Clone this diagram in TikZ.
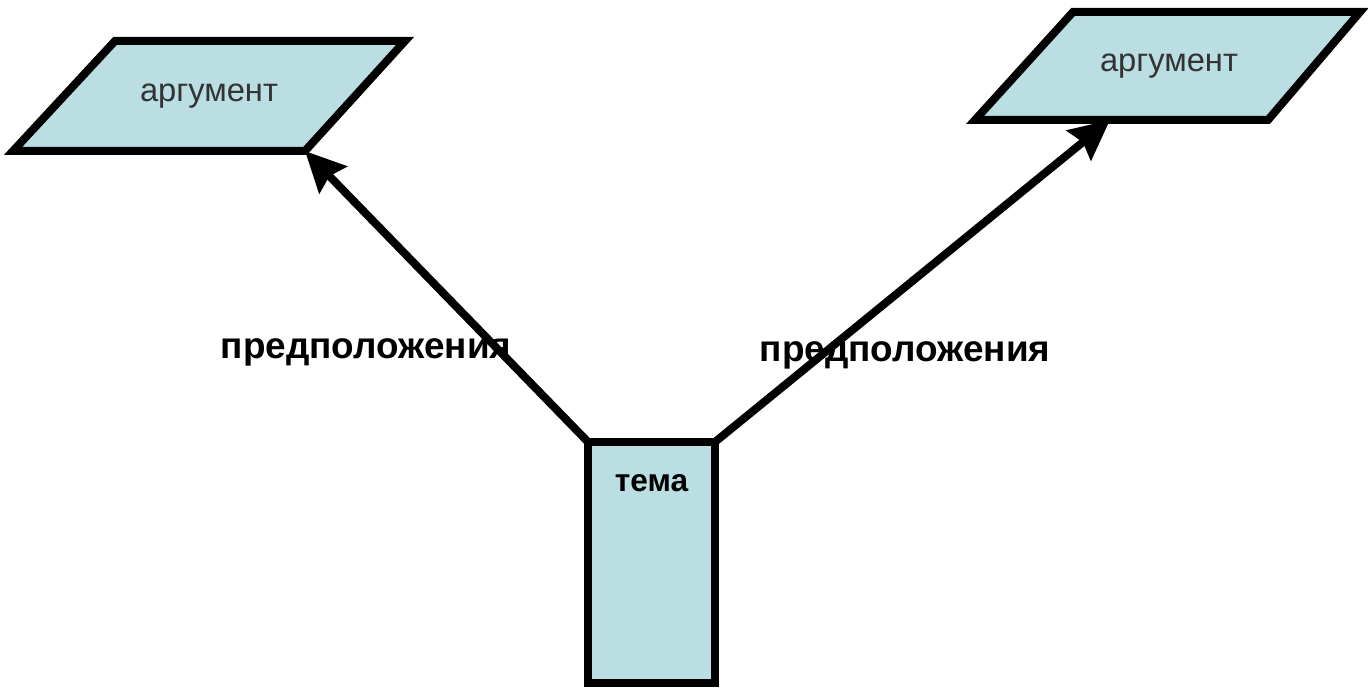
\documentclass[tikz,border=0pt]{standalone}
\usepackage{fontspec}
\setmainfont{Liberation Sans}
\usetikzlibrary{arrows.meta}
\definecolor{boxblue}{HTML}{BBDEE2}
\definecolor{argtext}{HTML}{333333}

\begin{document}
\begin{tikzpicture}
\tikzset{
  argshape/.style={draw,fill=boxblue,line width=0.08cm},
  argtxt/.style={text=argtext,font=\fontsize{9.3pt}{11pt}\selectfont},
  lbl/.style={font=\fontsize{10.5pt}{12pt}\selectfont\bfseries},
  arr/.style={line width=0.08cm,-{Stealth[length=0.4cm,width=0.38cm,inset=0.05cm]}}
}
\useasboundingbox (0,0) rectangle (13.68,-6.88);

\draw[argshape] (0.13,-1.51) -- (3.05,-1.51) coordinate (a1c) -- (4.05,-0.41) -- (1.15,-0.41) -- cycle;
\node[argtxt] (a1) at (2.09,-0.96) {аргумент};
\draw[argshape] (9.75,-1.20) -- (12.68,-1.20) -- (13.60,-0.12) -- (10.73,-0.12) -- cycle;
\node[argtxt] (a2) at (11.69,-0.66) {аргумент};

\node[draw,fill=boxblue,line width=0.08cm,minimum width=1.27cm,minimum height=2.41cm,outer sep=0pt] (t) at (6.515,-5.625) {};
\node[lbl,font=\fontsize{9pt}{11pt}\selectfont\bfseries,below=0.2cm] (tt) at (t.north) {тема};

\node[lbl] (p1) at (3.66,-3.52) {предположения};
\node[lbl] (p2) at (9.05,-3.55) {предположения};

\coordinate (tip2) at (11.1,-1.2);
\draw[arr] (t.north west) -- (a1c);
\draw[arr] (t.north east) -- (tip2);
\end{tikzpicture}
\end{document}
